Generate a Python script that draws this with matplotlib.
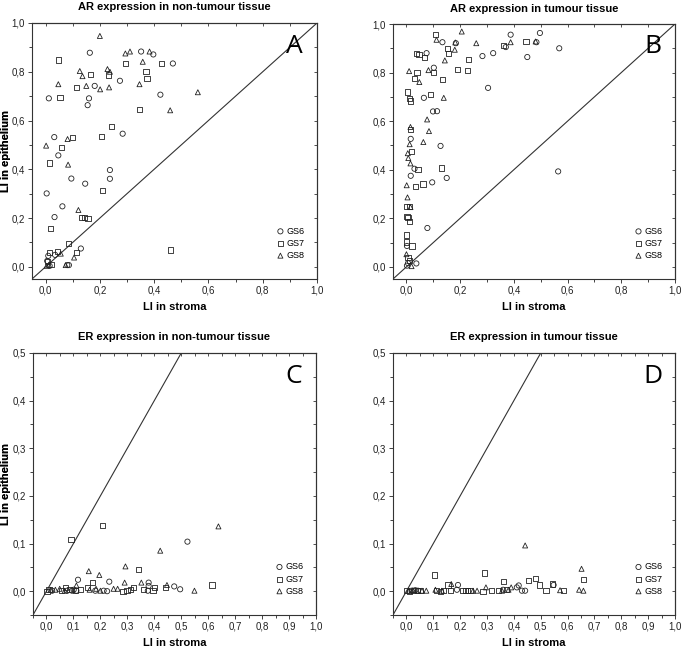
import matplotlib
matplotlib.use('Agg')
import matplotlib.pyplot as plt
from matplotlib.ticker import MultipleLocator, FuncFormatter, NullFormatter

plt.rcParams['font.family'] = ['Liberation Sans', 'DejaVu Sans']

# ---- data (LI in stroma, LI in epithelium) ----
a_gs6_x = [0.163, 0.352, 0.397, 0.469, 0.274, 0.181, 0.012, 0.16, 0.155, 0.423, 0.284, 0.032, 0.047,
           0.237, 0.237, 0.095, 0.146, 0.004, 0.062, 0.033, 0.13, 0.086, 0.01, 0.035, 0.006, 0.015, 0.08]
a_gs6_y = [0.878, 0.883, 0.871, 0.834, 0.763, 0.742, 0.691, 0.691, 0.663, 0.706, 0.546, 0.532, 0.457,
           0.397, 0.361, 0.362, 0.341, 0.301, 0.248, 0.204, 0.075, 0.007, 0.045, 0.049, 0.024, 0.004, 0.007]
a_gs7_x = [0.049, 0.294, 0.427, 0.167, 0.232, 0.37, 0.374, 0.113, 0.053, 0.346, 0.244, 0.207, 0.099, 0.059,
           0.015, 0.21, 0.133, 0.142, 0.156, 0.017, 0.083, 0.46, 0.015, 0.043, 0.114, 0.006, 0.022]
a_gs7_y = [0.848, 0.834, 0.834, 0.79, 0.787, 0.8, 0.773, 0.735, 0.695, 0.646, 0.576, 0.535, 0.532, 0.491,
           0.426, 0.313, 0.201, 0.201, 0.199, 0.158, 0.095, 0.069, 0.059, 0.063, 0.059, 0.022, 0.011]
a_gs8_x = [0.2, 0.294, 0.311, 0.383, 0.358, 0.126, 0.136, 0.228, 0.237, 0.047, 0.15, 0.201, 0.234, 0.346,
           0.561, 0.459, 0.081, 0.002, 0.083, 0.121, 0.056, 0.105, 0.074, 0.004, 0.012]
a_gs8_y = [0.947, 0.875, 0.883, 0.883, 0.841, 0.803, 0.782, 0.811, 0.8, 0.749, 0.742, 0.728, 0.736, 0.749,
           0.716, 0.642, 0.524, 0.497, 0.419, 0.233, 0.054, 0.038, 0.007, 0.004, 0.008]

b_gs6_x = [0.134, 0.184, 0.075, 0.283, 0.323, 0.102, 0.304, 0.065, 0.099, 0.114, 0.016, 0.127, 0.03, 0.016,
           0.15, 0.096, 0.078, 0.002, 0.006, 0.002, 0.037, 0.37, 0.388, 0.497, 0.484, 0.45, 0.569, 0.565]
b_gs6_y = [0.925, 0.921, 0.88, 0.868, 0.88, 0.82, 0.737, 0.696, 0.64, 0.641, 0.527, 0.498, 0.404, 0.375,
           0.366, 0.348, 0.16, 0.086, 0.015, 0.005, 0.014, 0.905, 0.956, 0.963, 0.925, 0.864, 0.9, 0.393]
b_gs7_x = [0.108, 0.153, 0.158, 0.037, 0.047, 0.066, 0.23, 0.189, 0.227, 0.039, 0.029, 0.102, 0.133, 0.005,
           0.012, 0.016, 0.091, 0.015, 0.019, 0.043, 0.13, 0.033, 0.062, 0.0, 0.01, 0.002, 0.006, 0.01,
           0.0, 0.0, 0.021, 0.006, 0.01, 0.36, 0.445]
b_gs7_y = [0.956, 0.9, 0.88, 0.88, 0.876, 0.861, 0.853, 0.813, 0.809, 0.8, 0.775, 0.8, 0.772, 0.72,
           0.693, 0.683, 0.709, 0.565, 0.475, 0.402, 0.407, 0.33, 0.341, 0.247, 0.247, 0.209, 0.202, 0.186,
           0.131, 0.102, 0.086, 0.038, 0.025, 0.911, 0.928]
b_gs8_x = [0.112, 0.206, 0.18, 0.26, 0.143, 0.01, 0.048, 0.082, 0.139, 0.077, 0.084, 0.015, 0.012, 0.005,
           0.007, 0.015, 0.063, 0.001, 0.004, 0.015, 0.0, 0.019, 0.388, 0.481, 0.182]
b_gs8_y = [0.935, 0.969, 0.894, 0.921, 0.85, 0.806, 0.761, 0.81, 0.696, 0.607, 0.559, 0.576, 0.505, 0.468,
           0.448, 0.426, 0.514, 0.336, 0.286, 0.246, 0.052, 0.003, 0.925, 0.928, 0.924]

c_gs6_x = [0.523, 0.117, 0.233, 0.379, 0.379, 0.474, 0.496, 0.181, 0.212, 0.225, 0.376, 0.021, 0.077,
           0.095, 0.101, 0.111]
c_gs6_y = [0.104, 0.024, 0.02, 0.018, 0.011, 0.01, 0.004, 0.001, 0.001, 0.0, 0.001, 0.001, 0.001,
           0.001, 0.003, 0.001]
c_gs7_x = [0.091, 0.207, 0.34, 0.172, 0.443, 0.614, 0.151, 0.284, 0.299, 0.311, 0.323, 0.36, 0.4, 0.395,
           0.002, 0.009, 0.056, 0.07, 0.126, 0.085, 0.107]
c_gs7_y = [0.108, 0.138, 0.045, 0.018, 0.007, 0.013, 0.008, 0.0, 0.001, 0.003, 0.008, 0.003, 0.007, 0.001,
           0.0, 0.003, 0.001, 0.008, 0.003, 0.003, 0.001]
c_gs8_x = [0.638, 0.422, 0.293, 0.157, 0.196, 0.29, 0.352, 0.447, 0.549, 0.111, 0.16, 0.184, 0.2, 0.249,
           0.264, 0.015, 0.033, 0.049, 0.068]
c_gs8_y = [0.136, 0.085, 0.052, 0.042, 0.034, 0.018, 0.018, 0.013, 0.001, 0.012, 0.003, 0.005, 0.001, 0.005,
           0.005, 0.003, 0.003, 0.005, 0.001]

d_gs6_x = [0.192, 0.548, 0.411, 0.418, 0.43, 0.442, 0.188, 0.019, 0.033, 0.043, 0.36]
d_gs6_y = [0.013, 0.013, 0.008, 0.012, 0.001, 0.001, 0.003, 0.001, 0.002, 0.001, 0.003]
d_gs7_x = [0.104, 0.29, 0.362, 0.455, 0.482, 0.494, 0.544, 0.52, 0.585, 0.659, 0.155, 0.285, 0.318, 0.343,
           0.372, 0.111, 0.126, 0.139, 0.164, 0.211, 0.219, 0.228, 0.238, 0.0, 0.011, 0.027, 0.04, 0.052]
d_gs7_y = [0.034, 0.038, 0.02, 0.022, 0.027, 0.013, 0.015, 0.001, 0.001, 0.024, 0.013, 0.0, 0.001, 0.001,
           0.003, 0.001, 0.0, 0.002, 0.001, 0.001, 0.001, 0.001, 0.001, 0.001, 0.0, 0.001, 0.001, 0.001]
d_gs8_x = [0.442, 0.652, 0.167, 0.39, 0.296, 0.572, 0.643, 0.659, 0.356, 0.38, 0.108, 0.132, 0.248, 0.263,
           0.009, 0.024, 0.058, 0.074]
d_gs8_y = [0.096, 0.047, 0.015, 0.008, 0.008, 0.002, 0.003, 0.001, 0.001, 0.003, 0.003, 0.001, 0.001, 0.001,
           0.001, 0.002, 0.001, 0.001]

panels = [
    ('AR expression in non-tumour tissue', 'A', 1.0, [(a_gs6_x, a_gs6_y), (a_gs7_x, a_gs7_y), (a_gs8_x, a_gs8_y)]),
    ('AR expression in tumour tissue', 'B', 1.0, [(b_gs6_x, b_gs6_y), (b_gs7_x, b_gs7_y), (b_gs8_x, b_gs8_y)]),
    ('ER expression in non-tumour tissue', 'C', 0.5, [(c_gs6_x, c_gs6_y), (c_gs7_x, c_gs7_y), (c_gs8_x, c_gs8_y)]),
    ('ER expression in tumour tissue', 'D', 0.5, [(d_gs6_x, d_gs6_y), (d_gs7_x, d_gs7_y), (d_gs8_x, d_gs8_y)]),
]
group_names = ['GS6', 'GS7', 'GS8']
group_markers = ['o', 's', '^']

# axes boxes in pixels: left, top, right, bottom
boxes = [(32, 23, 317, 279), (393, 24, 675, 279), (33, 353, 316, 615), (393, 353, 675, 615)]
W, H = 685, 648

fig = plt.figure(figsize=(W / 100, H / 100), dpi=100)
comma = FuncFormatter(lambda v, p: f'{v:.1f}'.replace('.', ','))

for (title, letter, ymax, groups), (l, t, r, b) in zip(panels, boxes):
    ax = fig.add_axes([l / W, 1 - b / H, (r - l) / W, (b - t) / H])
    ax.plot([-0.05, 1.0], [-0.05, 1.0], color='#333333', lw=0.8, zorder=1)
    for (gx, gy), name, m in zip(groups, group_names, group_markers):
        ax.scatter(gx, gy, marker=m, s=14 if m != '^' else 13, facecolors='none',
                   edgecolors='#222222', linewidths=0.6, label=name, zorder=2)
    ax.set_xlim(-0.05, 1.0)
    ax.set_ylim(-0.05, ymax)
    step = 0.2 if ymax == 1.0 else 0.1
    ax.xaxis.set_major_locator(MultipleLocator(step))
    ax.yaxis.set_major_locator(MultipleLocator(step))
    ax.xaxis.set_minor_locator(MultipleLocator(step / 2))
    ax.yaxis.set_minor_locator(MultipleLocator(step / 2))
    ax.xaxis.set_major_formatter(comma)
    ax.yaxis.set_major_formatter(comma)
    ax.tick_params(which='both', direction='out', length=3, width=0.6, labelsize=7,
                   colors='#222222', pad=2)
    ax.tick_params(which='minor', length=2)
    for sp in ax.spines.values():
        sp.set_linewidth(0.8)
        sp.set_color('#333333')

    # small inward ticks on the top and right edges
    top = ax.secondary_xaxis('top')
    right = ax.secondary_yaxis('right')
    for sec, axis in [(top, top.xaxis), (right, right.yaxis)]:
        axis.set_major_locator(MultipleLocator(step / 2))
        axis.set_major_formatter(NullFormatter())
        sec.tick_params(direction='in', length=2, width=0.6, colors='#333333')
        for sp in sec.spines.values():
            sp.set_linewidth(0.8)
            sp.set_color('#333333')

    ax.set_title(title, fontsize=8, fontweight='bold', pad=9)
    ax.set_xlabel('LI in stroma', fontsize=8, fontweight='bold', labelpad=4)
    ax.set_ylabel('LI in epithelium', fontsize=8, fontweight='bold')
    ax.yaxis.set_label_coords(-(l - 11) / (r - l), 0.5)
    ax.text(0.92, 0.91, letter, transform=ax.transAxes, fontsize=19, ha='center', va='center',
            family=['Open Sans', 'DejaVu Sans'])
    ax.legend(loc='lower right', bbox_to_anchor=(0.97, 0.06), frameon=False, fontsize=6.5,
              handletextpad=0.1, labelspacing=0.35, borderaxespad=0, handlelength=1.2)

fig.savefig('out.png', dpi=100)
